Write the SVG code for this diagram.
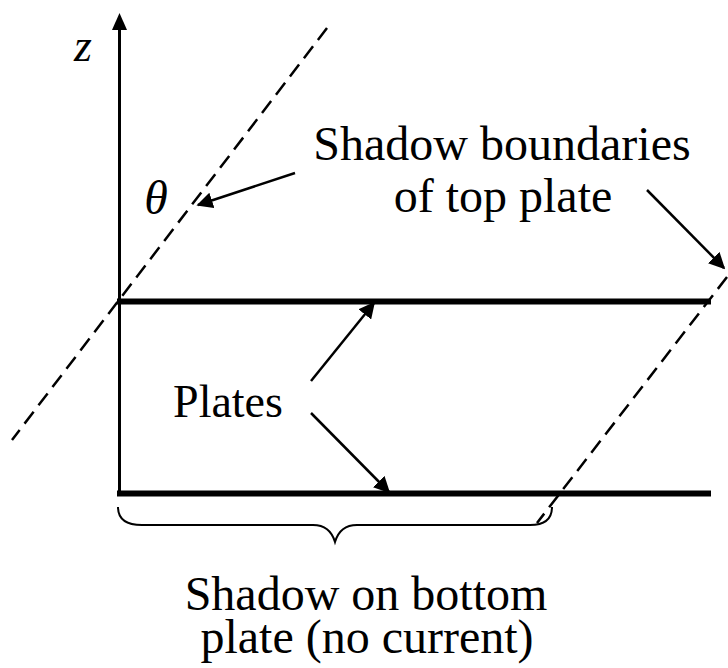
<svg xmlns="http://www.w3.org/2000/svg" width="728" height="668" viewBox="0 0 728 668">
<style>
.plate{stroke:#000;stroke-width:6;fill:none}
.dash{stroke:#000;stroke-width:2.5;fill:none;stroke-dasharray:15 8}
.arr{stroke:#000;stroke-width:2.5;fill:none;marker-end:url(#ah)}
.brace{stroke:#000;stroke-width:2;fill:none}
</style>
<defs>
<marker id="ah" viewBox="0 0 10 10" refX="9" refY="5" markerWidth="6.5" markerHeight="6.5" markerUnits="strokeWidth" orient="auto">
<path d="M0,0 L10,5 L0,10 Z" fill="#000"/>
</marker>
</defs>
<g id="axis">
<line x1="119.5" y1="28" x2="119.5" y2="494" stroke="#000" stroke-width="3"/>
<path d="M119.5,13 L112,30 L127,30 Z" fill="#000"/>
</g>
<g id="top-plate"><line class="plate" x1="117" y1="301.5" x2="711" y2="301.5"/></g>
<g id="bottom-plate"><line class="plate" x1="117" y1="493.5" x2="711" y2="493.5"/></g>
<g id="shadow-lines">
<line class="dash" x1="327" y1="28" x2="12" y2="440"/>
<line class="dash" x1="727" y1="277" x2="537" y2="523"/>
</g>
<g id="brace">
<path class="brace" d="M118,507 Q118,525 142,525 L313,525 Q330,525 335,542 Q340,525 357,525 L530,525 Q552,525 552,507"/>
</g>
<g id="connectors">
<line class="arr" x1="295" y1="173" x2="198" y2="205"/>
<line class="arr" x1="647" y1="190" x2="724" y2="268"/>
<line class="arr" x1="311" y1="381" x2="374" y2="303"/>
<line class="arr" x1="311" y1="413" x2="389" y2="492"/>
</g>
<g id="labels" font-family="'Liberation Serif', 'Times New Roman', 'DejaVu Serif', serif" fill="#000">
<text x="83" y="61" text-anchor="middle" font-size="46" font-style="italic">z</text>
<text x="156" y="214" text-anchor="middle" font-size="48" font-style="italic">θ</text>
<text x="502" y="160" text-anchor="middle" font-size="48">Shadow boundaries</text>
<text x="503" y="212" text-anchor="middle" font-size="48">of top plate</text>
<text x="228" y="417" text-anchor="middle" font-size="46">Plates</text>
<text x="366" y="610" text-anchor="middle" font-size="48">Shadow on bottom</text>
<text x="367" y="653" text-anchor="middle" font-size="48">plate (no current)</text>
</g>
</svg>
